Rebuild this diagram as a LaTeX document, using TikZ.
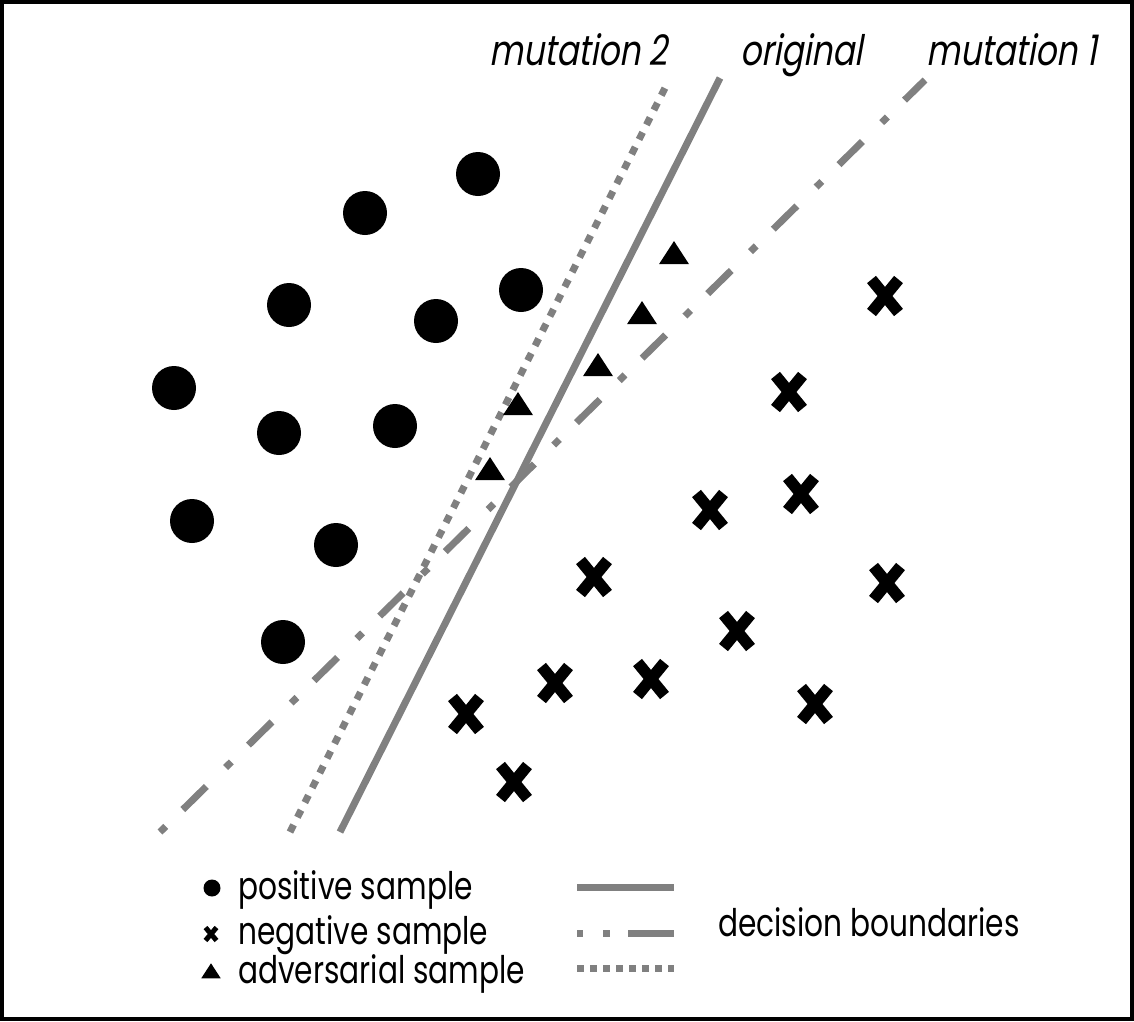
\documentclass[tikz,border=0pt]{standalone}
\usepackage{fontspec}
\usetikzlibrary{shapes.geometric}
\setmainfont{Poppins}[FakeStretch=0.78]
\newfontfamily\labfont{Poppins}[FakeStretch=0.78,FakeSlant=0.18]
\definecolor{bgray}{RGB}{128,128,128}
\begin{document}
\begin{tikzpicture}[x=1pt,y=-1pt,
  possample/.style={circle,fill=black,inner sep=0pt,minimum size=44pt},
  advsample/.style={isosceles triangle,isosceles triangle apex angle=66,shape border rotate=90,fill=black,inner sep=0pt,minimum height=23pt,minimum width=30pt},
  bound/.style={draw=bgray,line width=7pt},
  solidb/.style={bound},
  dashdotb/.style={bound,dash pattern=on 8pt off 24pt on 33pt off 27pt},
  dottedb/.style={bound,dash pattern=on 8pt off 8.5pt},
  lab/.style={font=\labfont\fontsize{42}{46}\selectfont,inner sep=0pt},
  leg/.style={font=\fontsize{38}{42}\selectfont,inner sep=0pt,anchor=base west},
  negmark/.pic={\draw[line width=11.5pt] (-13.5,-16.5) -- (13.5,16.5) (-13.5,16.5) -- (13.5,-16.5);},
  negsmall/.pic={\draw[line width=5pt] (-5.5,-6.5) -- (5.5,6.5) (-5.5,6.5) -- (5.5,-6.5);}
]
\useasboundingbox (0,0) rectangle (1134,1021);
\draw[line width=4pt] (2,2) rectangle (1132,1019);

% boundaries
\coordinate (o1) at (340,832); \coordinate (o2) at (720,78);
\coordinate (m21) at (290,832); \coordinate (m22) at (668,82);
\coordinate (m11) at (160,832); \coordinate (m12) at (925,80);
\draw[dashdotb] (m11) -- (m12);
\draw[dottedb] (m21) -- (m22);
\draw[solidb] (o1) -- (o2);

% labels
\node[lab,anchor=base east] (lm2) at (668,65) {mutation 2};
\node[lab,anchor=base west] (lor) at (740,65) {original};
\node[lab,anchor=base east] (lm1) at (1097,65) {mutation 1};

% positive samples
\foreach \n/\x/\y in {p1/478/174,p2/365/213,p3/289/305,p4/436/321,p5/521/290,p6/174/388,p7/279/433,p8/395/426,p9/192/521,p10/336/545,p11/283/642}
  \node[possample] (\n) at (\x,\y) {};

% adversarial samples
\foreach \n/\x/\y in {a1/674/256,a2/642/316,a3/598/368,a4/518/407,a5/490/472}
  \node[advsample] (\n) at (\x,\y) {};

% negative samples
\foreach \n/\x/\y in {n1/885/296,n2/789/392,n3/801/494,n4/710/510,n5/594/577,n6/887/583,n7/737/631,n8/555/683,n9/651/679,n10/466/714,n11/815/704,n12/514/782}
  \pic (\n) at (\x,\y) {negmark};

% legend
\node[circle,fill=black,inner sep=0pt,minimum size=17pt] (lp) at (212,888) {};
\pic (ln) at (211,934) {negsmall};
\node[isosceles triangle,isosceles triangle apex angle=66,shape border rotate=90,fill=black,inner sep=0pt,minimum height=15pt,minimum width=18pt] (la) at (211,973) {};
\node[leg] (tp) at (238,899) {positive sample};
\node[leg] (tn) at (238,944) {negative sample};
\node[leg] (ta) at (238,983) {adversarial sample};

\coordinate (ls1) at (577,887); \coordinate (ls2) at (674,887);
\coordinate (ld1) at (577,933); \coordinate (ld2) at (674,933);
\coordinate (lt1) at (577,968); \coordinate (lt2) at (674,968);
\draw[solidb] (ls1) -- (ls2);
\draw[bound,dash pattern=on 6pt off 20pt on 7pt off 18pt on 60pt] (ld1) -- (ld2);
\draw[bound,dash pattern=on 7pt off 6pt] (lt1) -- (lt2);
\node[leg] (tdb) at (718,936) {decision boundaries};
\end{tikzpicture}
\end{document}
